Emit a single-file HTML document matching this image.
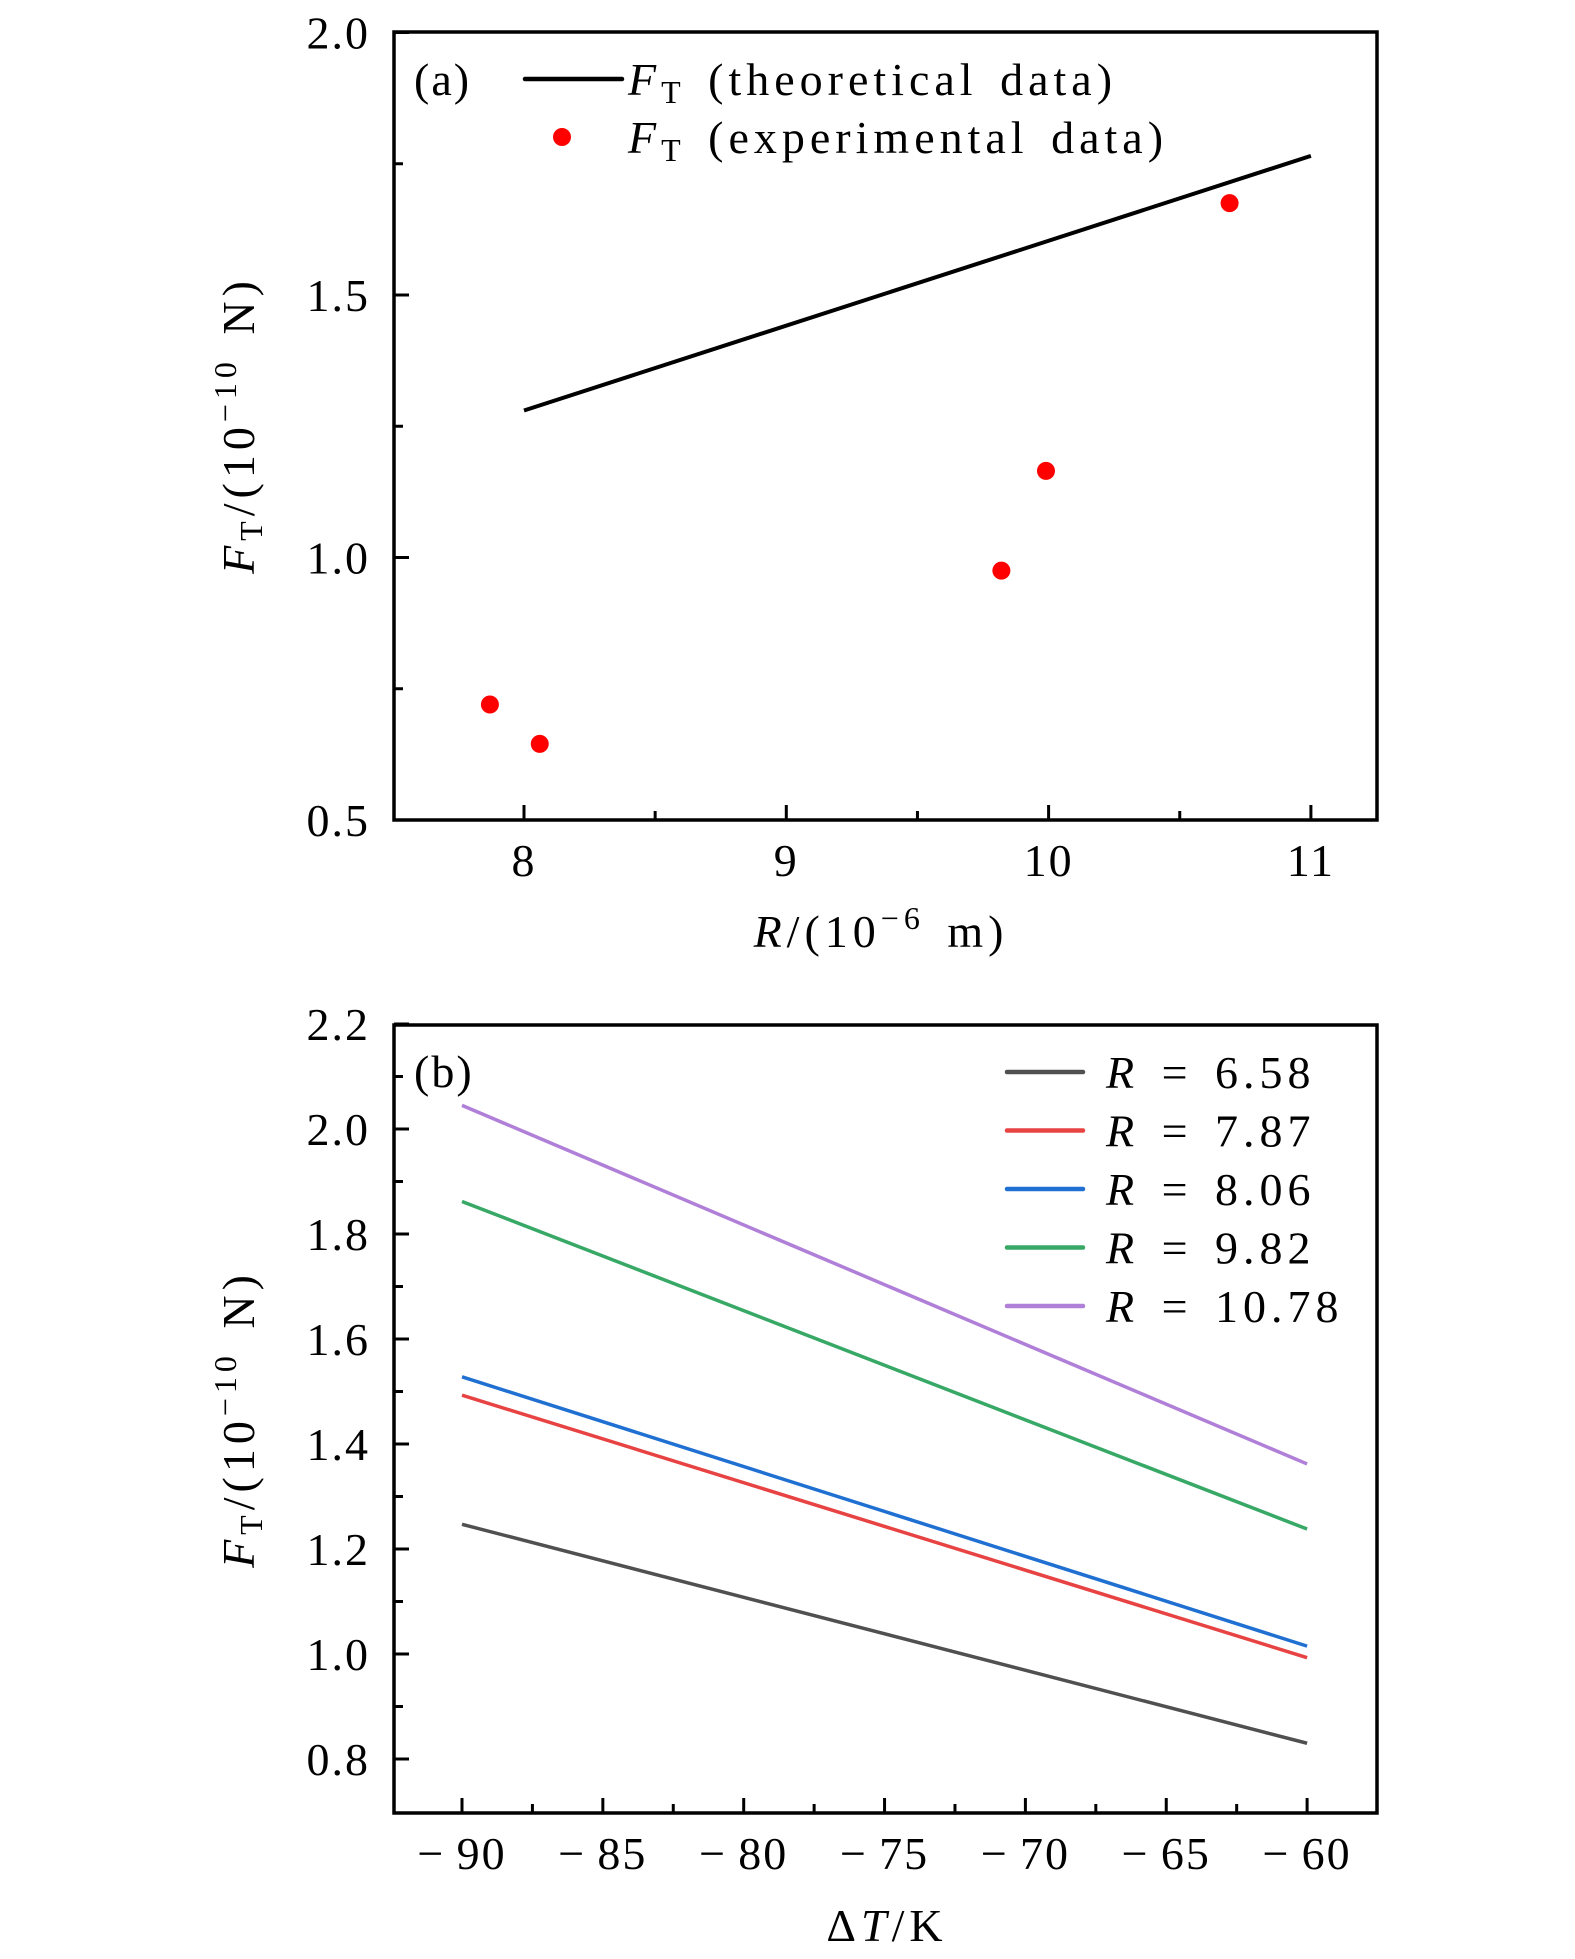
<!DOCTYPE html>
<html><head><meta charset="utf-8"><style>
html,body{margin:0;padding:0;background:#fff;}
svg{display:block;font-family:"Liberation Serif",serif;}
text{font-size:46px;fill:#000;letter-spacing:2px;}
.wide{letter-spacing:5px;word-spacing:6px;}
</style></head><body>
<svg id="fig" width="1575" height="1959" viewBox="0 0 1575 1959"></svg>
<script>
// Panel (a) data
const aLineR=[8,11];
const aLineF=[1.28,1.765];
const aPtsR=[7.87,8.06,9.82,9.99,10.69];
const aPtsF=[0.72,0.645,0.975,1.165,1.675];
const aXTicks=[8,9,10,11];
const aYTicks=[0.5,1.0,1.5,2.0];
// Panel (b) data
const bT=[-90,-60];
const bLabels=["6.58","7.87","8.06","9.82","10.78"];
const bF658=[1.247,0.830];
const bF787=[1.493,0.993];
const bF806=[1.528,1.015];
const bF982=[1.862,1.238];
const bF1078=[2.045,1.362];
const bXTicks=[-90,-85,-80,-75,-70,-65,-60];
const bYTicks=[0.8,1.0,1.2,1.4,1.6,1.8,2.0,2.2];

const NS="http://www.w3.org/2000/svg";
const svg=document.getElementById('fig');
function mk(tag,attrs,parent){const e=document.createElementNS(NS,tag);for(const k in attrs)e.setAttribute(k,attrs[k]);(parent||svg).appendChild(e);return e;}

const ax={x:v=>524+(v-8)*262.3,y:v=>820-(v-0.5)*525};
const bx={x:v=>462+(v+90)*28.17,y:v=>1129-(v-2.0)*525};

function frame(L,T,R,B,name){
  const r=mk('rect',{x:L,y:T,width:R-L,height:B-T,fill:'none',stroke:'#000','stroke-width':3.5});
  
  
}
function xtick(x,B,len,lab,name){
  const l=mk('line',{x1:x,x2:x,y1:B,y2:B-len,stroke:'#000','stroke-width':3});
  
  
  if(lab!==null){const t=mk('text',{x:x,y:B+56,'text-anchor':'middle'});t.textContent=lab;
    
    }
}
function ytick(y,L,len,lab,name){
  const l=mk('line',{x1:L,x2:L+len,y1:y,y2:y,stroke:'#000','stroke-width':3});
  
  
  if(lab!==null){const t=mk('text',{x:370,y:y+16,'text-anchor':'end'});t.textContent=lab;
    
    }
}

// ---- Panel a ----
frame(394,32,1377,820,'panel-a-frame');
aXTicks.forEach(v=>xtick(ax.x(v),820,15,String(v),'x-tick'));
aXTicks.slice(0,-1).forEach(v=>xtick(ax.x(v+0.5),820,9,null,'x-minor-tick'));
aYTicks.forEach(v=>ytick(ax.y(v),394,15,v.toFixed(1),'y-tick'));
aYTicks.slice(0,-1).forEach(v=>ytick(ax.y(v+0.25),394,9,null,'y-minor-tick'));
let th=mk('line',{x1:ax.x(aLineR[0]),y1:ax.y(aLineF[0]),x2:ax.x(aLineR[1]),y2:ax.y(aLineF[1]),stroke:'#000','stroke-width':4});


aPtsR.forEach((r,i)=>{const c=mk('circle',{cx:ax.x(r),cy:ax.y(aPtsF[i]),r:9,fill:'#f00'});
  
  });

// ---- Panel b ----
frame(394,1025,1377,1813,'panel-b-frame');
bXTicks.forEach(v=>xtick(bx.x(v),1813,15,'\u2212\u2009'+Math.abs(v),'x-tick'));
bXTicks.slice(0,-1).forEach(v=>xtick(bx.x(v+2.5),1813,9,null,'x-minor-tick'));
bYTicks.forEach(v=>ytick(bx.y(v),394,15,v.toFixed(1),'y-tick'));
bYTicks.slice(0,-1).forEach(v=>ytick(bx.y(v+0.1),394,9,null,'y-minor-tick'));
const bSeries=[bF658,bF787,bF806,bF982,bF1078];
const bColors=['#505050','#e84343','#2070d2','#38a866','#b07fd8'];
bSeries.forEach((s,i)=>{
  const l=mk('line',{x1:bx.x(bT[0]),y1:bx.y(s[0]),x2:bx.x(bT[1]),y2:bx.y(s[1]),stroke:bColors[i],'stroke-width':3.5});
  
  
  const y=1072+i*58.5;
  const ll=mk('line',{x1:1007,x2:1083,y1:y,y2:y,stroke:bColors[i],'stroke-width':4.5,'stroke-linecap':'round'});
  
  
  const t=mk('text',{x:1106,y:y+16,'class':'wide'});
  
  
  t.innerHTML='<tspan font-style="italic">R</tspan> = '+bLabels[i];
});
</script>
<script>
const s=document.getElementById('fig');
s.insertAdjacentHTML('beforeend',`
<text x="414" y="95">(a)</text>
<line x1="525" y1="79" x2="622" y2="79" stroke="#000" stroke-width="4.5" stroke-linecap="round"/>
<text x="628" y="95" class="wide"><tspan font-style="italic">F</tspan><tspan font-size="32" dy="8">T</tspan><tspan dy="-8"> (theoretical data)</tspan></text>
<circle cx="562" cy="137" r="9" fill="#f00"/>
<text x="628" y="153" class="wide"><tspan font-style="italic">F</tspan><tspan font-size="32" dy="8">T</tspan><tspan dy="-8"> (experimental data)</tspan></text>
<text x="881" y="947" text-anchor="middle" class="wide"><tspan font-style="italic">R</tspan>/(10<tspan font-size="32" dy="-18">−6</tspan><tspan dy="18"> m)</tspan></text>
<text transform="translate(254,425) rotate(-90)" text-anchor="middle" class="wide"><tspan font-style="italic">F</tspan><tspan font-size="32" dy="8">T</tspan><tspan dy="-8">/(10</tspan><tspan font-size="32" dy="-18">−10</tspan><tspan dy="18"> N)</tspan></text>
<text x="414" y="1087">(b)</text>
<text x="887" y="1941" text-anchor="middle" class="wide">Δ<tspan font-style="italic">T</tspan>/K</text>
<text transform="translate(254,1419) rotate(-90)" text-anchor="middle" class="wide"><tspan font-style="italic">F</tspan><tspan font-size="32" dy="8">T</tspan><tspan dy="-8">/(10</tspan><tspan font-size="32" dy="-18">−10</tspan><tspan dy="18"> N)</tspan></text>
`);
</script>
</body></html>
